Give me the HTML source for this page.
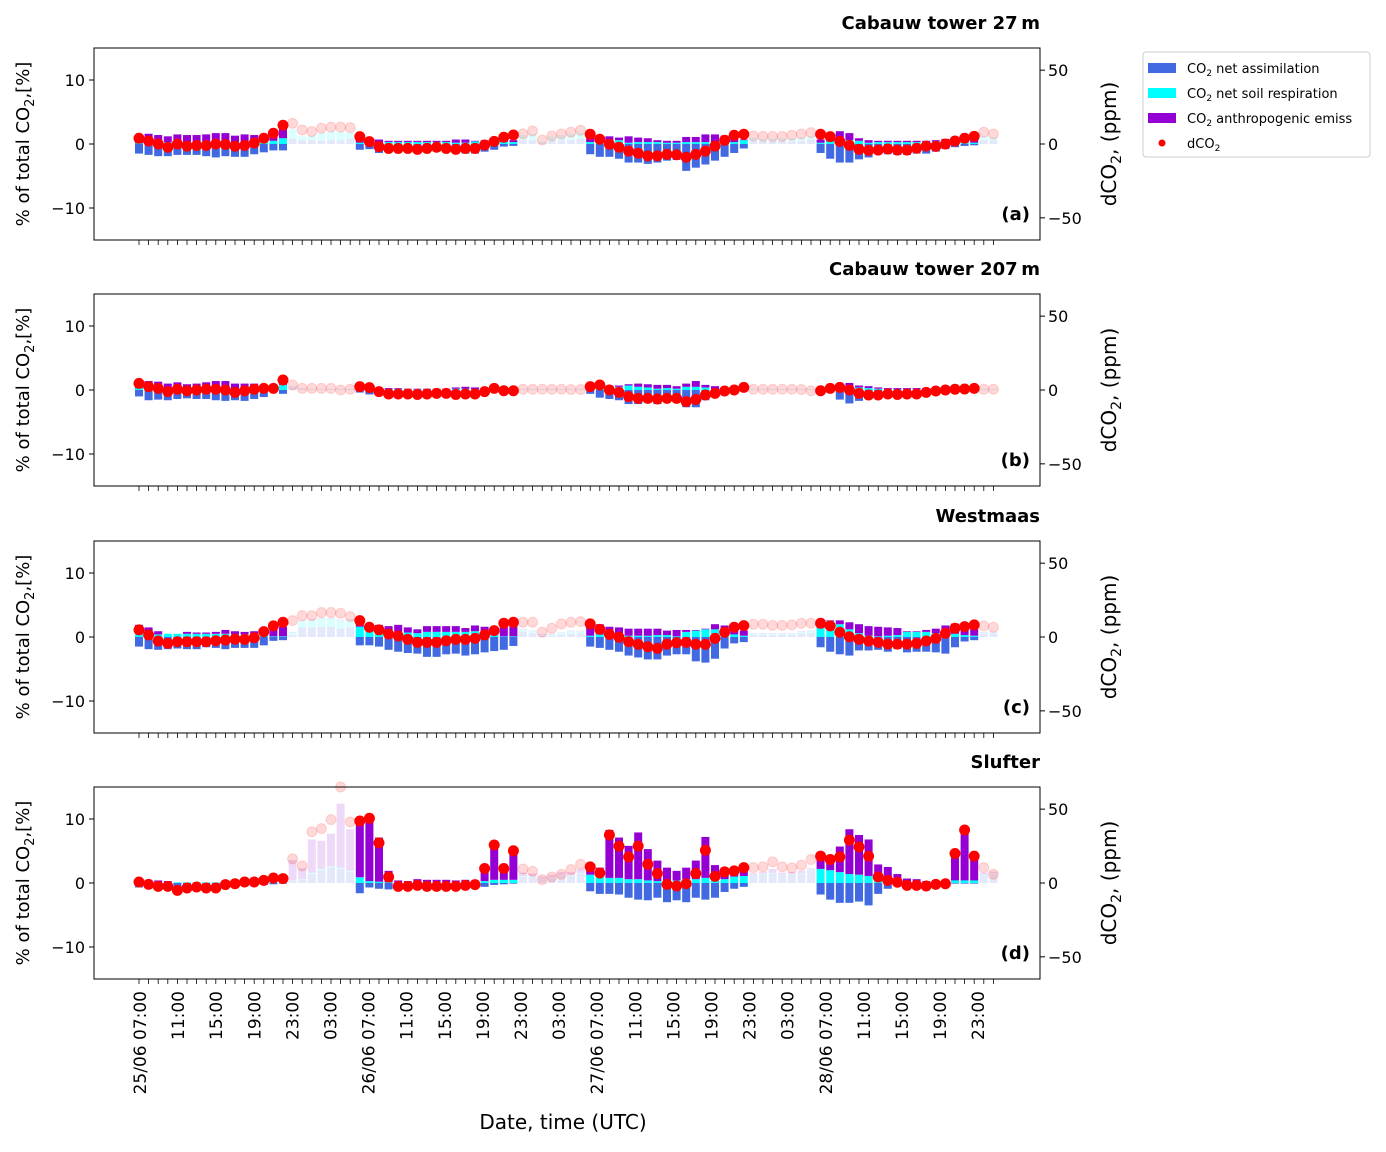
<!DOCTYPE html>
<html><head><meta charset="utf-8"><style>
body{margin:0;background:#fff;font-family:"Liberation Sans","DejaVu Sans",sans-serif;}
svg text{font-family:"DejaVu Sans","Liberation Sans",sans-serif;}
</style></head><body>
<svg id="chart" width="1386" height="1147" viewBox="0 0 1386 1147" xmlns="http://www.w3.org/2000/svg"></svg>
<script>
const tickLabels=["25/06 07:00","11:00","15:00","19:00","23:00","03:00","26/06 07:00","11:00","15:00","19:00","23:00","03:00","27/06 07:00","11:00","15:00","19:00","23:00","03:00","28/06 07:00","11:00","15:00","19:00","23:00"];
const panelTitles=["Cabauw tower 27\u2009m","Cabauw tower 207\u2009m","Westmaas","Slufter"];
const panelTags=["(a)","(b)","(c)","(d)"];
const nightIdx=[16,17,18,19,20,21,22,40,41,42,43,44,45,46,64,65,66,67,68,69,70,88,89];
// dCO2 (ppm)
const dotsA=[3.9,2,0,-2.2,0,-1.4,-1,-1,0,-0.3,-1.5,-1,0.7,3.9,7.3,12.7, 14,9.5,8.4,10.7,11.4,11.4,11.1, 5,1.6,-1.8,-3,-3,-3,-3.6,-3,-2.2,-3,-3.6,-3,-3,-0.7,1.8,4.6,6.1, 6.8,8.8,2.7,5.4,6.8,8,9.3, 6.6,3.2,-0.2,-2.2,-4.8,-6.3,-8,-8,-7,-7.3,-9,-7,-4.8,-1.4,2.5,5.9,6.6, 5.4,5.2,5.2,5.2,5.9,6.8,7.7, 6.6,5,1.8,-0.9,-3.6,-4.3,-4.1,-3.4,-4.1,-4.1,-2.9,-1.4,-1.6,0,2,3.9,5.2, 8,6.8];
const dotsB=[4.5,2.3,1.1,-1.1,0.5,-0.5,0,0.5,0.5,0,-1.6,-0.5,0.5,1.1,1.1,6.8, 3.4,1.1,1.1,1.1,1.1,0,0.5, 2.3,1.6,-1.1,-2.7,-2.7,-2.7,-3,-2.7,-2.3,-2.3,-3,-2.7,-2.7,-1.1,1.1,-0.5,-0.5, 0.5,0.5,0.5,0.5,0.5,0.3,0.3, 2.3,3.4,0,-1.6,-4.5,-5.7,-5.7,-6.1,-5.7,-5.7,-7.9,-6.4,-3.4,-2.3,-0.7,0,1.8, 0.5,0.5,0.5,0.5,0.5,0.3,-0.5, -0.5,1.1,1.8,0,-2.3,-3.4,-3.4,-2.7,-3,-2.7,-2.7,-1.6,-0.7,0,0.5,0.7,1.1, 0.5,0.5];
const dotsC=[4.8,1.4,-2.7,-4.3,-3.2,-3.2,-3.2,-3.2,-2.5,-2,-1.4,-1.6,-0.5,3.6,7.5,10, 11.1,14.5,14.5,16.6,16.6,16.1,13.8, 11.1,6.6,4.8,2,0.7,-1.6,-3.6,-3.6,-3.6,-2.5,-1.6,-1.6,-0.9,1.4,4.3,9.3,10, 10,10,3.2,5.9,8.9,10,10.4, 8.9,5.2,1.8,-0.2,-3.2,-5,-6.6,-7.7,-4.8,-3.9,-3.6,-5,-5,-0.9,3.2,6.6,7.7, 8.6,8.6,7.9,7.9,8.2,9.3,9.3, 9.3,7.5,3.2,0.2,-1.6,-2.7,-3.6,-4.8,-4.8,-4.8,-4.3,-2.7,-0.9,2.5,5.9,7,8.2, 7.5,6.6];
const dotsD=[0.7,-0.9,-2.3,-2.3,-5,-3.4,-2.7,-3.4,-3.4,-1.1,-0.5,0.7,0.7,1.8,3.4,3, 16.3,11.6,34.7,36.8,42.9,65,41.3, 42,43.8,27.2,4.1,-2.3,-2.3,-1.6,-2.3,-2.3,-2.3,-2.3,-1.6,-1.1,9.8,25.7,9.8,21.8, 9.5,7.9,2.3,4.1,5.9,9.1,12.7, 10.9,6.8,32.5,25,17.7,25,12.7,6.4,-0.9,-2,-0.5,6.4,22.2,4.5,7.5,8.2,10.4, 10.4,10.9,14.3,10.9,10.2,12,15.9, 18.2,15.9,17.7,29,24.5,18.2,4.1,1.8,0.5,-1.6,-1.6,-2,-0.9,-0.5,20,35.9,18.2, 10.4,5.9];
// net assimilation (%), signed
const blueA=[-1.5,-1.7,-1.9,-1.9,-1.7,-1.7,-1.7,-1.9,-2.1,-1.9,-2,-2,-1.6,-1.3,-1,-1, 0.8,0.6,0.6,0.5,0.6,0.6,0.8, -0.9,-0.8,-1.4,-1.2,-1.2,-1.2,-1.2,-1.2,-1.2,-1.2,-1.4,-1.5,-1.5,-1.2,-0.9,-0.4,-0.3, 0.6,0.6,0.2,0.5,0.6,0.6,0.8, -1.6,-2,-2,-2.3,-2.9,-2.9,-3.1,-2.9,-2.6,-2.5,-4.2,-3.7,-3.2,-2.6,-2,-1.4,-0.7, 0.5,0.4,0.5,0.5,0.4,0.5,0.7, -1.4,-2.3,-2.9,-2.9,-2.4,-2.1,-1.6,-1.6,-1.7,-1.7,-1.5,-1.5,-1.2,-0.8,-0.5,-0.3,-0.2, 0.6,0.6];
const cyanA=[0.1,0.1,0.1,0.3,0.1,0.3,0.2,0.1,0.1,0.1,0.3,0.3,0.3,0.3,0.5,0.9, 1.5,0.6,0.7,1.2,1.3,1.3,1.0, 0.2,0.2,0.2,0.3,0.3,0.3,0.3,0.3,0.3,0.3,0.2,0.2,0.4,0.5,0.4,0.3,0.3, 0.8,1.0,0.2,0.7,0.8,1.0,1.0, 0.3,0.2,0.3,0.6,0.2,0.3,0.3,0.3,0.2,0.2,0.3,0.3,0.3,0.3,0.3,0.3,0.6, 0.5,0.4,0.4,0.4,0.5,0.5,0.5, 0.2,0.4,0.6,0.6,0.5,0.2,0.3,0.3,0.3,0.3,0.3,0.3,0.4,0.2,0.2,0.2,0.2, 0.6,0.5];
const purpA=[1.2,1.5,1.3,0.9,1.4,1.1,1.2,1.4,1.6,1.6,1.0,1.2,1.1,0.6,1.5,1.5, 0,0,0,0,0,0,0, 0.7,0.4,0.5,0.2,0.2,0.2,0.2,0.2,0.2,0.2,0.5,0.5,0.1,0.1,0.3,0.5,0.3, 0,0,0,0,0,0,0, 1.0,0.9,0.9,0.4,1.0,0.7,0.6,0.3,0.3,0.3,0.8,0.8,1.2,1.2,1.0,0.8,0.1, 0,0,0,0,0,0,0, 0.5,0.2,1.4,1.1,0.4,0.4,0.2,0.2,0.2,0.2,0.2,0.2,0.2,0.6,0.8,0.7,1.0, 0,0];
const blueB=[-1.0,-1.6,-1.5,-1.6,-1.4,-1.3,-1.4,-1.4,-1.6,-1.7,-1.6,-1.7,-1.4,-1.1,-0.1,-0.6, 0.5,0.2,0.1,0.1,0.1,0.1,0.1, -0.4,-0.7,-0.5,-0.3,-0.3,-0.3,-0.2,-0.2,-0.2,-0.2,-0.2,-0.2,-0.2,-0.2,-0.1,-0.1,-0.1, 0.1,0.1,0.1,0.1,0.1,0.1,0.1, -0.6,-1.2,-1.4,-1.6,-2.2,-2.2,-2.0,-2.2,-1.7,-1.6,-2.7,-2.7,-1.6,-0.6,-0.3,-0.2,-0.1, 0.1,0.1,0.1,0.1,0.1,0.1,0.1, -0.2,-0.4,-1.5,-2.1,-1.7,-1.4,-1.0,-0.8,-0.8,-0.7,-0.7,-0.5,-0.4,-0.3,-0.2,-0.1,-0.1, 0.1,0.1];
const cyanB=[0.3,0.1,0.1,0.1,0.1,0.1,0.1,0.1,0.1,0.1,0.1,0.1,0.1,0.1,0.2,0.8, 0.2,0.1,0.1,0.1,0.1,0.1,0.1, 0.2,0.2,0.1,0.1,0.2,0.1,0.1,0.1,0.1,0.1,0.2,0.2,0.1,0.1,0.1,0.1,0.1, 0.1,0.1,0.1,0.1,0.1,0.1,0.1, 0.2,0.3,0.5,0.5,0.7,0.5,0.4,0.2,0.3,0.2,0.5,0.5,0.4,0.1,0.1,0.1,0.1, 0.1,0.1,0.1,0.1,0.1,0.1,0.1, 0.1,0.2,0.3,0.5,0.4,0.3,0.2,0.1,0.1,0.1,0.1,0.1,0.1,0.1,0.1,0.1,0.1, 0.1,0.1];
const purpB=[0.9,1.3,1.2,0.9,1.1,0.8,0.9,1.1,1.3,1.3,0.9,0.9,0.9,0.6,0.3,0.3, 0,0,0,0,0,0,0, 0.1,0.1,0.2,0.2,0.1,0.1,0.1,0.1,0.1,0.1,0.2,0.3,0.3,0.1,0.1,0.1,0.1, 0,0,0,0,0,0,0, 0.1,0.2,0.2,0.2,0.2,0.5,0.5,0.6,0.5,0.4,0.5,0.9,0.4,0.5,0.1,0.1,0.1, 0,0,0,0,0,0,0, 0.1,0.1,0.5,0.6,0.3,0.3,0.2,0.2,0.2,0.2,0.2,0.2,0.1,0.1,0.1,0.1,0.1, 0,0];
const blueC=[-1.5,-1.9,-2,-1.9,-1.8,-1.9,-1.9,-1.6,-1.7,-1.9,-1.7,-1.7,-1.7,-1.3,-0.6,-0.5, 0.3,1.5,1.5,1.6,1.6,1.3,1.5, -1.3,-1.3,-1.5,-2,-2.3,-2.5,-2.6,-3.1,-3.1,-2.7,-2.6,-2.9,-2.7,-2.4,-2.2,-2,-1.4, 0.8,0.6,0.2,0.2,0.3,0.5,0.6, -1.5,-1.7,-2,-2.3,-2.9,-3.2,-3.5,-3.5,-2.9,-2.7,-2.7,-3.8,-4,-3.4,-1.8,-1,-0.8, 0.3,0.3,0.3,0.3,0.3,0.5,0.6, -1.6,-2.3,-2.7,-2.9,-2.1,-2.1,-2,-2.3,-1.9,-2.4,-2.3,-2.3,-2.4,-2.6,-1.6,-0.7,-0.5, 0.5,0.5];
const cyanC=[0.5,0.5,0.4,0.5,0.5,0.5,0.5,0.5,0.5,0.5,0.4,0.4,0.5,0.3,0.1,0.1, 0.4,1.0,1.2,1.3,1.3,1.3,1.2, 1.6,1.0,0.8,0.8,0.8,0.7,0.6,0.8,0.8,0.8,0.8,0.8,0.9,0.8,0.3,0.1,0.1, 0.3,0.3,0.2,0.2,0.3,0.4,0.3, 0.2,0.4,0.5,0.4,0.2,0.2,0.2,0.3,0.3,0.1,0.8,1.0,1.2,1.2,0.3,0.4,0.2, 0.2,0.2,0.2,0.2,0.2,0.3,0.3, 1.4,2.5,2.0,1.2,0.6,0.2,0.1,0.2,0.3,0.8,0.8,0.8,0.6,0.8,0.5,0.3,0.2, 0.2,0.2];
const purpC=[1.4,1.0,0.5,0.0,0.0,0.3,0.2,0.2,0.3,0.6,0.5,0.4,0.4,0.3,1.5,1.5, 0.1,0.1,0.1,0.1,0.1,0.1,0.1, 0.8,0.9,1.1,0.9,1.1,0.8,0.6,0.9,0.9,0.9,0.9,0.6,0.9,0.8,0.3,2.0,1.9, 0.1,0.1,0.1,0.1,0.1,0.1,0.1, 1.4,1.6,1.1,1.1,1.1,1.1,1.1,1.0,0.7,1.0,0.3,0.1,0.1,0.8,1.5,1.0,0.8, 0.1,0.1,0.1,0.1,0.1,0.1,0.1, 1.4,0.1,0.6,1.1,1.4,1.5,1.5,1.3,1.1,0.1,0.1,0.3,0.7,1.0,1.6,1.4,1.3, 0.1,0.1];
const blueD=[-0.7,-0.6,-0.5,-0.5,-0.7,-0.7,-0.6,-0.6,-0.6,-0.5,-0.4,-0.3,-0.3,-0.3,-0.2,-0.1, 0.3,0.5,1.4,2.0,2.4,2.2,1.7, -1.6,-0.7,-0.9,-1.0,-0.2,-0.2,-0.2,-0.2,-0.2,-0.2,-0.2,-0.2,-0.2,-0.6,-0.3,-0.2,-0.1, 1.0,1.0,0.6,0.8,1.2,1.1,1.5, -1.3,-1.7,-1.7,-1.8,-2.3,-2.6,-2.7,-2.3,-3,-2.7,-3,-2.3,-2.6,-2.3,-1.4,-0.9,-0.6, 1.1,1.3,1.5,1.2,1.3,1.4,2.0, -1.8,-2.6,-3.1,-3.1,-2.9,-3.5,-1.7,-0.9,-0.2,-0.2,-0.1,-0.1,-0.1,-0.1,-0.1,-0.1,-0.1, 1.2,1.4];
const cyanD=[0.1,0.1,0.1,0.1,0.1,0.1,0.1,0.1,0.1,0.1,0.1,0.1,0.1,0.1,0.1,0.1, 0.1,0.1,0.2,0.2,0.2,0.2,0.2, 0.9,0.3,0.2,0.1,0.1,0.1,0.1,0.1,0.1,0.1,0.1,0.1,0.1,0.3,0.5,0.5,0.5, 0.1,0.1,0.1,0.1,0.1,0.1,0.1, 1.3,1.0,0.8,0.8,0.6,0.6,0.4,0.3,0.2,0.4,0.6,0.6,0.8,0.6,0.6,1.0,1.1, 0.1,0.1,0.1,0.1,0.1,0.1,0.1, 2.2,2.0,1.7,1.4,1.3,1.1,0.3,0.3,0.2,0.1,0.1,0.1,0,0,0.4,0.4,0.4, 0.1,0.1];
const purpD=[0.5,0.2,0.3,0.2,0,0,0,0,0,0.3,0.3,0.2,0.3,0.3,0.3,0.3, 3.2,1.7,5.2,4.4,5.1,10.0,6.5, 8.7,10.0,6.9,1.8,0.3,0.2,0.5,0.4,0.4,0.4,0.3,0.4,0.3,2.0,5.4,1.8,4.6, 0.5,0.4,0.3,0.4,0.4,0.5,0.6, 0.7,1.4,7.5,6.3,5.2,7.3,4.9,3.2,2.2,1.5,1.8,2.9,6.4,2.2,1.8,1.4,0.9, 0.3,0.3,0.6,0.3,0.3,0.4,0.2, 2.6,2.3,4.0,7.0,6.2,5.7,2.6,2.2,1.2,0.6,0.5,0.2,0.1,0,4.6,8.0,4.2, 0.3,0.3];

const panels=[
 {top:48,dots:dotsA,blue:blueA,cyan:cyanA,purp:purpA},
 {top:294,dots:dotsB,blue:blueB,cyan:cyanB,purp:purpB},
 {top:541,dots:dotsC,blue:blueC,cyan:cyanC,purp:purpC},
 {top:787,dots:dotsD,blue:blueD,cyan:cyanD,purp:purpD}
];
const NS="http://www.w3.org/2000/svg";
const svg=document.getElementById('chart');
const X0=94,X1=1040,H=192;
function xAt(i){return 139+i*9.6;}
function mk(tag,attrs,parent){const e=document.createElementNS(NS,tag);for(const k in attrs)e.setAttribute(k,attrs[k]);(parent||svg).appendChild(e);return e;}
function txt(s,attrs,parent){const e=mk('text',attrs,parent);e.textContent=s;return e;}
const night=new Set(nightIdx);

panels.forEach((p,pi)=>{
  const g=mk('g',{});
  
  
  const yL=v=>p.top+(15-v)*H/30;
  const yR=v=>p.top+(65-v)*H/130;
  for(let i=0;i<p.dots.length;i++){
    const op=night.has(i)?0.15:1;
    const x=xAt(i)-4;
    let posBase=0;
    const b=p.blue[i];
    const segs=[];
    if(b<0){segs.push(['#4169e1',0,b]);}else{segs.push(['#4169e1',0,b]);posBase=b;}
    segs.push(['#00ffff',posBase,posBase+p.cyan[i]]);posBase+=p.cyan[i];
    segs.push(['#9400d3',posBase,posBase+p.purp[i]]);
    segs.forEach((s,si)=>{
      const y1=yL(Math.max(s[1],s[2])),y2=yL(Math.min(s[1],s[2]));
      if(y2-y1<=0)return;
      const r=mk('rect',{x:x,y:y1,width:8,height:y2-y1,fill:s[0],'fill-opacity':op},g);
      
      
    });
  }
  for(let i=0;i<p.dots.length;i++){
    const op=night.has(i)?0.15:1;
    const c=mk('circle',{cx:xAt(i),cy:yR(p.dots[i]),r:5,fill:'#ff0000','fill-opacity':op,stroke:'#ff0000','stroke-opacity':op,'stroke-width':1},g);
    
    
  }
  const fr=mk('rect',{x:X0,y:p.top,width:X1-X0,height:H,fill:'none',stroke:'#000','stroke-width':1},g);
  
  
  [10,0,-10].forEach(v=>{
    mk('line',{x1:X0-5,x2:X0,y1:yL(v),y2:yL(v),stroke:'#000'},g);
    const t=txt(String(v).replace('-','\u2212'),{x:X0-9,y:yL(v)+6,'font-size':16,'text-anchor':'end'},g);
    
    
  });
  [50,0,-50].forEach(v=>{
    mk('line',{x1:X1,x2:X1+5,y1:yR(v),y2:yR(v),stroke:'#000'},g);
    const t=txt(String(v).replace('-','\u2212'),{x:X1+8,y:yR(v)+6,'font-size':16},g);
    
    
  });
  for(let i=0;i<90;i++){mk('line',{x1:xAt(i),x2:xAt(i),y1:p.top+H,y2:p.top+H+5,stroke:'#000','stroke-width':0.8},g);}
  const yl=txt('',{transform:`translate(29,${p.top+H/2}) rotate(-90)`,'font-size':18,'text-anchor':'middle'},g);
  yl.innerHTML='% of total CO<tspan font-size="13" dy="5">2</tspan><tspan dy="-5">,[%]</tspan>';
  
  
  const yr=txt('',{transform:`translate(1116,${p.top+H/2}) rotate(-90)`,'font-size':20,'text-anchor':'middle'},g);
  yr.innerHTML='dCO<tspan font-size="14" dy="5">2</tspan><tspan dy="-5">, (ppm)</tspan>';
  
  
  const tt=txt(panelTitles[pi],{x:X1,y:p.top-19,'font-size':18,'font-weight':'bold','text-anchor':'end'},g);
  
  
  const tg=txt(panelTags[pi],{x:X1-10,y:p.top+H-20,'font-size':18,'font-weight':'bold','text-anchor':'end'},g);
  
  
});
tickLabels.forEach((s,k)=>{
  const x=140+k*38.1;
  const t=txt(s,{transform:`translate(${x+6},991) rotate(-90)`,'font-size':17,'text-anchor':'end'});
  
  
});
const xt=txt('Date, time (UTC)',{x:563,y:1129,'font-size':20,'text-anchor':'middle'});


const lg=mk('g',{});


mk('rect',{x:1143,y:52,width:227,height:105,rx:3,fill:'#fff',stroke:'#ccc'},lg);
const items=[['#4169e1','net assimilation'],['#00ffff','net soil respiration'],['#9400d3','anthropogenic emiss']];
items.forEach((it,k)=>{
  const y=63+k*25;
  const r=mk('rect',{x:1148,y:y,width:28,height:10,fill:it[0]},lg);
  
  
  const t=txt('',{x:1187,y:y+10,'font-size':13},lg);
  t.innerHTML='CO<tspan font-size="9" dy="3">2</tspan><tspan dy="-3"> '+it[1]+'</tspan>';
  
  
});
mk('circle',{cx:1162,cy:143,r:3.5,fill:'#ff0000'},lg);
const t4=txt('',{x:1187,y:148,'font-size':13},lg);
t4.innerHTML='dCO<tspan font-size="9" dy="3">2</tspan>';


</script>
</body></html>
